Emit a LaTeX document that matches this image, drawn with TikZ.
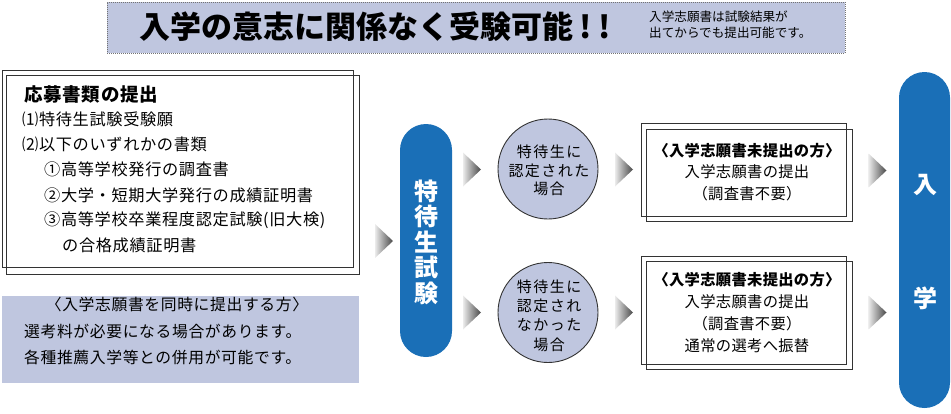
\documentclass[tikz,border=0pt]{standalone}
\usepackage{fontspec}
\setmainfont{Noto Sans CJK JP}
\newfontfamily\lsL[LetterSpace=4]{Noto Sans CJK JP}
\newfontfamily\lsR[LetterSpace=2]{Noto Sans CJK JP}
\newfontfamily\lsC[LetterSpace=10]{Noto Sans CJK JP}
\definecolor{lav}{HTML}{BFC6DF}
\definecolor{pblue}{HTML}{1A6FB7}
\definecolor{edge}{HTML}{333333}
\newcommand{\GrayTri}[1]{\shade[left color=black!8, right color=black!72] ([shift={(-9,-17)}]#1) -- ([shift={(9,0)}]#1) -- ([shift={(-9,17)}]#1) -- cycle;}
\begin{document}
\begin{tikzpicture}[x=1pt,y=-1pt,
  banner/.style={fill=lav, draw=black!55, line width=0.8pt, dash pattern=on 1pt off 1pt, inner sep=0pt, outer sep=0pt},
  lavbox/.style={fill=lav, inner sep=0pt, outer sep=0pt},
  dbox/.style={draw=edge, line width=0.9pt, inner sep=0pt, outer sep=0pt},
  boxline/.style={draw=edge, line width=0.9pt},
  pillbox/.style={fill=pblue, inner sep=0pt, outer sep=0pt},
  circ/.style={circle, draw=edge, line width=0.9pt, fill=lav, minimum size=100pt, inner sep=0pt},
  ltext/.style={anchor=west, inner sep=0pt, font=\lsL\fontsize{16.2}{20}\selectfont},
  ntext/.style={inner sep=0pt, font=\lsL\fontsize{15.8}{20}\selectfont},
  ctext/.style={align=center, inner sep=0pt},
  ptext/.style={align=center, inner sep=0pt, text=white, font=\bfseries\fontsize{24}{25.5}\selectfont},
]
\useasboundingbox (0,0) rectangle (951,413);

% banner
\node[banner, minimum width=738pt, minimum height=51pt] (ban) at (476,27.5) {};
\node[anchor=west, inner sep=0pt, font=\bfseries\fontsize{31}{31}\selectfont] (title) at (139,26.5) {入学の意志に関係なく受験可能\hspace{6pt}!\hspace{7pt}!};
\node[anchor=west, align=left, inner sep=0pt, font=\fontsize{12.6}{16}\selectfont] (note) at (649,25) {入学志願書は試験結果が\\出てからでも提出可能です。};

% left document box
\node[dbox, minimum width=351pt, minimum height=197pt] (lb) at (177.5,168.5) {};
\draw[boxline] ([shift={(4,5)}]lb.north west) rectangle ([shift={(6,7)}]lb.south east);
\node[anchor=west, inner sep=0pt, font=\lsL\bfseries\fontsize{18.5}{20}\selectfont] (t1) at (24,94) {応募書類の提出};
\node[ltext] (t2) at (22,119.5) {⑴特待生試験受験願};
\node[ltext] (t3) at (22,144.5) {⑵以下のいずれかの書類};
\node[ltext] (t4) at (44,169.5) {①高等学校発行の調査書};
\node[ltext] (t5) at (44,195) {②大学・短期大学発行の成績証明書};
\node[ltext] (t6) at (44,220.5) {③高等学校卒業程度認定試験(旧大検)};
\node[ltext] (t7) at (62,245.5) {の合格成績証明書};

% lower left note
\node[lavbox, minimum width=357pt, minimum height=87pt] (nb) at (180.5,339.5) {};
\node[ntext] (l1) at (177,304) {〈入学志願書を同時に提出する方〉};
\node[ntext, anchor=west] (l2) at (24,331) {選考料が必要になる場合があります。};
\node[ntext, anchor=west] (l3) at (24,357.5) {各種推薦入学等との併用が可能です。};

% exam pill
\node[pillbox, minimum width=52pt, minimum height=233pt, rounded corners=26pt] (p1) at (426,240.5) {};
\node[ptext] (p1t) at (426,242) {特\\待\\生\\試\\験};

% circles
\node[circ] (c1) at (548,169) {};
\node[ctext, font=\lsC\fontsize{15}{18.5}\selectfont] (c1t) at (549,170.7) {特待生に\\認定された\\場合};
\node[circ] (c2) at (548,312.5) {};
\node[ctext, font=\lsC\fontsize{15}{19.3}\selectfont] (c2t) at (549,315.5) {特待生に\\認定され\\なかった\\場合};

% result boxes
\node[dbox, minimum width=205pt, minimum height=93pt] (b1) at (743.5,169.5) {};
\draw[boxline] ([shift={(5,6)}]b1.north west) rectangle ([shift={(6,5)}]b1.south east);
\node[ctext, font=\lsR\fontsize{15.3}{21.5}\selectfont] (b1t) at (747,172) {{\bfseries 〈入学志願書未提出の方〉}\\入学志願書の提出\\（調査書不要）};
\node[dbox, minimum width=205pt, minimum height=108pt] (b2) at (743.5,310) {};
\draw[boxline] ([shift={(5,5)}]b2.north west) rectangle ([shift={(6,5)}]b2.south east);
\node[ctext, font=\lsR\fontsize{15.3}{22}\selectfont] (b2t) at (747,312.75) {{\bfseries 〈入学志願書未提出の方〉}\\入学志願書の提出\\（調査書不要）\\通常の選考へ振替};

% admission pill
\node[pillbox, minimum width=51pt, minimum height=336pt, rounded corners=25.5pt] (p2) at (924.5,240) {};
\node[ptext] (p2a) at (925,185) {入};
\node[ptext] (p2b) at (925,298) {学};

% gradient arrows
\coordinate (a1) at (384,241);
\coordinate (a2) at (472,169.5);
\coordinate (a3) at (472,312.5);
\coordinate (a4) at (624,169.5);
\coordinate (a5) at (624,312.5);
\coordinate (a6) at (877.5,170.5);
\coordinate (a7) at (877.5,312.5);
\GrayTri{a1}
\GrayTri{a2}
\GrayTri{a3}
\GrayTri{a4}
\GrayTri{a5}
\GrayTri{a6}
\GrayTri{a7}
\end{tikzpicture}
\end{document}
